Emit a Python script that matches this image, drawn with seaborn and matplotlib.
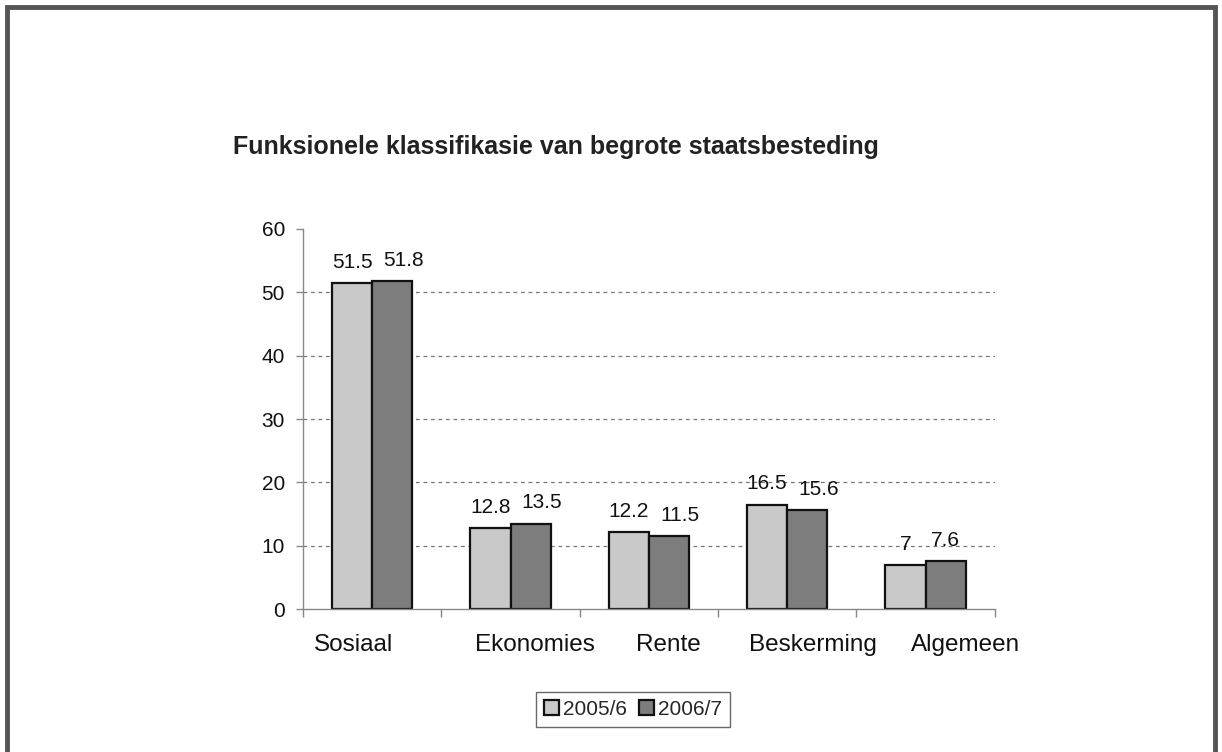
import pandas as pd
import matplotlib
matplotlib.use("Agg")
import matplotlib.pyplot as plt
import matplotlib.transforms as mtransforms
import seaborn as sns
from matplotlib.patches import Rectangle

# chart data
categories = ["Sosiaal", "Ekonomies", "Rente", "Beskerming", "Algemeen"]
years = ["2005/6", "2006/7"]
values_2005 = [51.5, 12.8, 12.2, 16.5, 7]
values_2006 = [51.8, 13.5, 11.5, 15.6, 7.6]

# long form table for seaborn
df = pd.DataFrame({
    "category": categories * 2,
    "year": [years[0]] * len(categories) + [years[1]] * len(categories),
    "value": values_2005 + values_2006,
})

sns.set_theme(style="white")
plt.rcParams["font.family"] = ["Liberation Sans", "DejaVu Sans"]

fig = plt.figure(figsize=(12.22, 7.52), dpi=100)
ax = fig.add_axes([0.248, 0.19, 0.566, 0.5055])

sns.barplot(data=df, x="category", y="value", hue="year", order=categories,
            hue_order=years, palette=["#c9c9c9", "#7d7d7d"], width=0.58,
            edgecolor="#111111", linewidth=1.6, saturation=1, ax=ax,
            legend=True)

def shift(txt, dx):
    # move a text sideways by dx pixels
    txt.set_transform(txt.get_transform() +
                      mtransforms.ScaledTranslation(dx / 100, 0, fig.dpi_scale_trans))

for i, cont in enumerate(ax.containers):
    texts = ax.bar_label(cont, fmt="%g", padding=8, fontsize=15, color="#111111")
    if i == 1:
        # second series labels sit a little to the right, as in the Excel original
        for t in texts[:-1]:
            t.xyann = (t.xyann[0] + 8, t.xyann[1])

# axes styling
ax.set_ylim(0, 60)
ax.set_xlim(-0.5, len(categories) - 0.5)
ax.set_yticks(range(0, 61, 10))
ax.set_xlabel("")
ax.set_ylabel("")
for y in range(10, 51, 10):
    ax.axhline(y, color="#777777", linestyle=(0, (3, 3)), linewidth=0.9, zorder=0)

for side in ["top", "right"]:
    ax.spines[side].set_visible(False)
for side in ["left", "bottom"]:
    ax.spines[side].set_color("#888888")
    ax.spines[side].set_linewidth(1.0)

ax.tick_params(axis="y", which="major", left=True, length=5, width=1,
               color="#888888", labelsize=15, labelcolor="#111111", pad=8)
ax.tick_params(axis="x", which="major", bottom=False, labelsize=17.5,
               labelcolor="#111111", pad=12)
ax.set_xticks([i - 0.5 for i in range(len(categories) + 1)], minor=True)
ax.tick_params(axis="x", which="minor", bottom=True, length=6, width=1,
               color="#888888")

# Excel placed the category labels a bit off centre
label_shift = [-19, 24, 19, 26, 40]
for lab, dx in zip(ax.get_xticklabels(), label_shift):
    shift(lab, dx)

# legend at the bottom, in a box
ax.legend_.remove()
handles, labels = ax.get_legend_handles_labels()
leg = fig.legend(handles[:2], labels[:2], loc="center", ncol=2,
                 bbox_to_anchor=(0.518, 0.0565), fontsize=15, frameon=True,
                 fancybox=False, edgecolor="#444444", handlelength=0.7,
                 handleheight=0.7, handletextpad=0.2, columnspacing=0.6,
                 borderpad=0.4)
leg.get_frame().set_linewidth(1.0)

fig.text(0.191, 0.8045, "Funksionele klassifikasie van begrote staatsbesteding",
         fontsize=18, fontweight="bold", color="#222222", va="center", ha="left")

# outer frame
fig.patches.append(Rectangle((7 / 1222, -0.02), 1208 / 1222, 1 - 7 / 752 + 0.02,
                             transform=fig.transFigure, fill=False,
                             edgecolor="#555555", linewidth=3.5))

fig.savefig("out.png", dpi=100)
